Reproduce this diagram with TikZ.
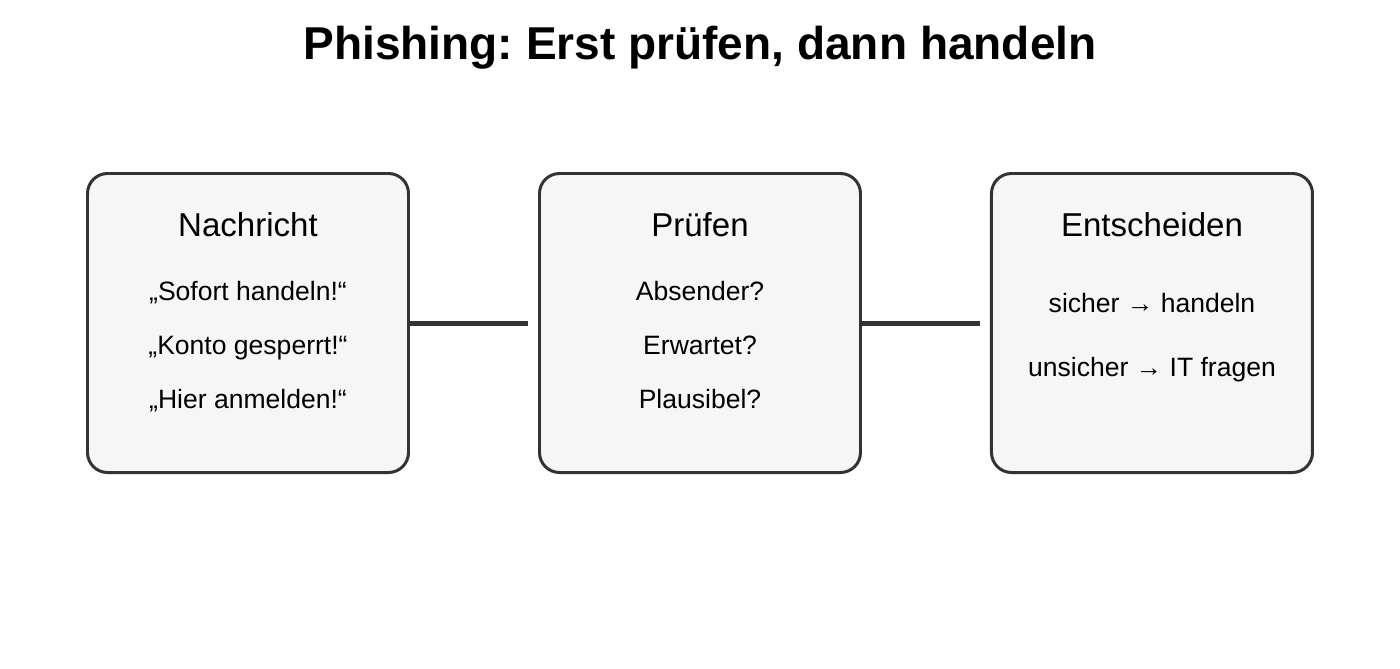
\documentclass[tikz,border=0pt]{standalone}
\usepackage{fontspec}
\setmainfont{Liberation Sans}
\usepackage{tikz}
\usetikzlibrary{positioning}
\definecolor{boxgray}{RGB}{246,246,246}
\definecolor{linedark}{RGB}{51,51,51}
\frenchspacing

\begin{document}
\begin{tikzpicture}[
    node distance=2.56cm,
    stage/.style={rectangle, draw=linedark, fill=boxgray, line width=1.7pt, rounded corners=0.4cm,
                  minimum width=6.42cm, minimum height=5.98cm},
    heading/.style={anchor=base, font=\fontsize{18.8}{22}\selectfont},
    item/.style={anchor=base, font=\fontsize{15.1}{18}\selectfont},
    link/.style={draw=linedark, line width=2.85pt}
]
\useasboundingbox (0,0) rectangle (28,-13.36);

\node[anchor=base, font=\bfseries\fontsize{26.2}{30}\selectfont] (title) at (14,-1.19) {Phishing: Erst prüfen, dann handeln};

\node[stage] (nachricht) at (4.96,-6.46) {};
\node[stage, right=of nachricht] (pruefen) {};
\node[stage, right=of pruefen] (entscheiden) {};

% headings
\node[heading] (headN) at ([yshift=-1.28cm]nachricht.north) {Nachricht};
\node[heading] (headP) at ([yshift=-1.28cm]pruefen.north) {Prüfen};
\node[heading] (headE) at ([yshift=-1.28cm]entscheiden.north) {Entscheiden};

% contents
\node[item] (sofort) at ([yshift=-2.56cm]nachricht.north) {„Sofort handeln!“};
\node[item] (konto) at ([yshift=-3.64cm]nachricht.north) {„Konto gesperrt!“};
\node[item] (hier) at ([yshift=-4.72cm]nachricht.north) {„Hier anmelden!“};
\node[item] (absender) at ([yshift=-2.56cm]pruefen.north) {Absender?};
\node[item] (erwartet) at ([yshift=-3.64cm]pruefen.north) {Erwartet?};
\node[item] (plausibel) at ([yshift=-4.72cm]pruefen.north) {Plausibel?};
\node[item] (sicher) at ([yshift=-2.8cm]entscheiden.north) {sicher → handeln};
\node[item] (unsicher) at ([yshift=-4.08cm]entscheiden.north) {unsicher → IT fragen};

\coordinate[left=0.2cm of pruefen.west] (endP);
\coordinate[left=0.2cm of entscheiden.west] (endE);
\draw[link] (nachricht.east) -- (endP);
\draw[link] (pruefen.east) -- (endE);

\end{tikzpicture}
\end{document}
